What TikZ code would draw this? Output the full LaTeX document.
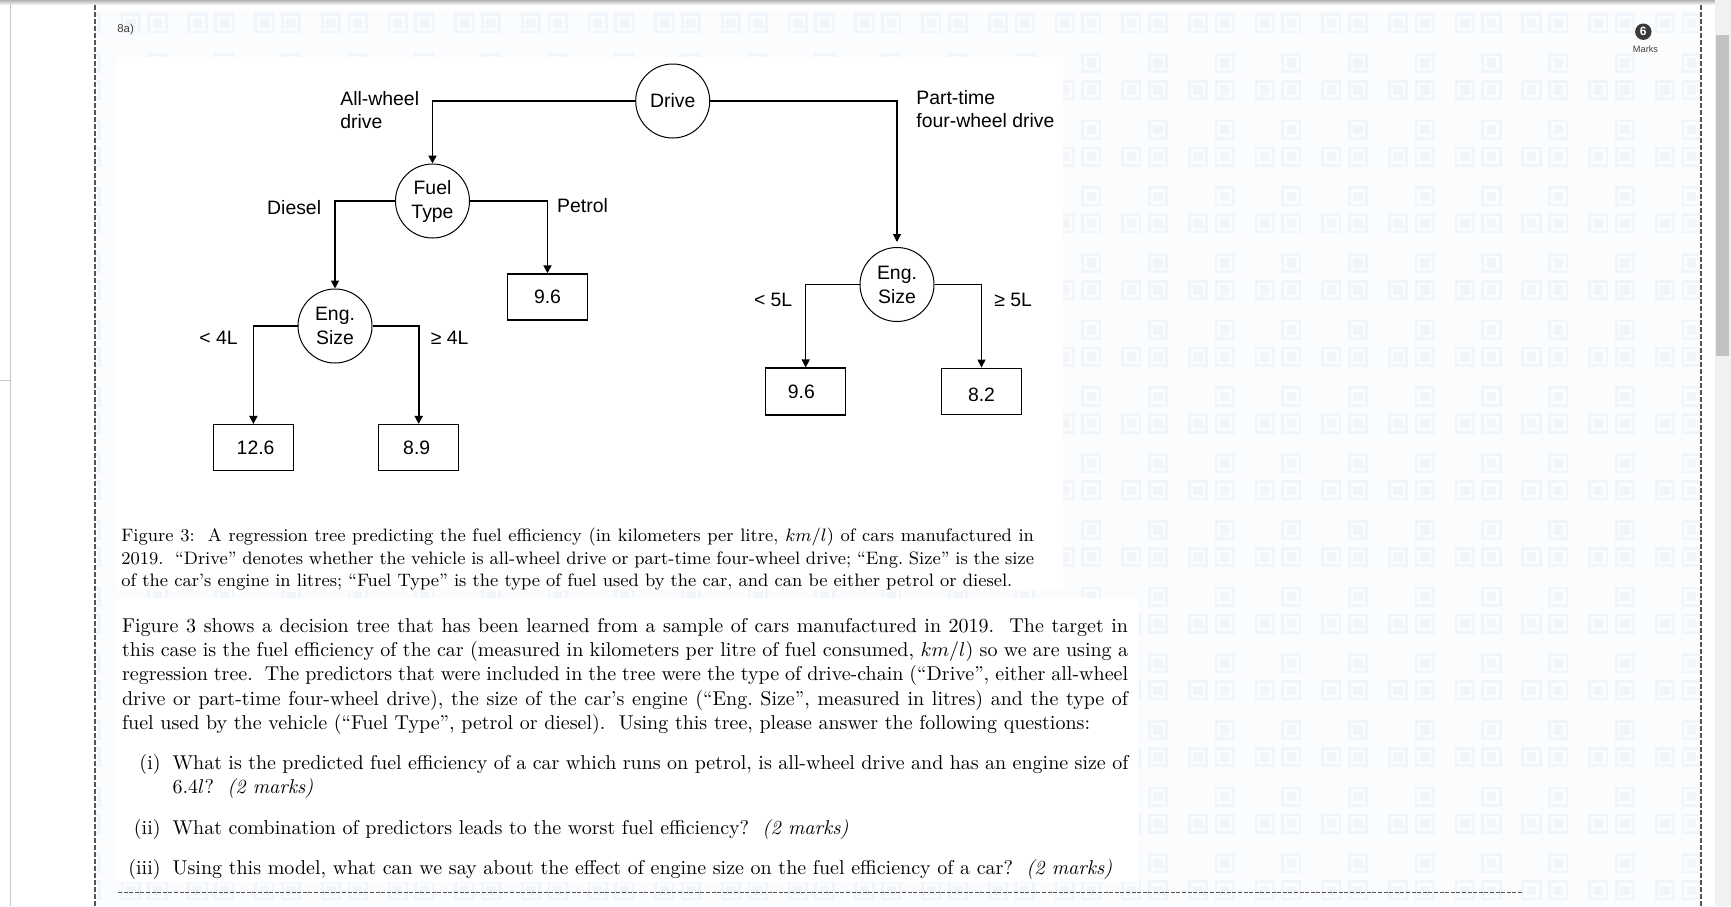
\documentclass[tikz,border=0pt]{standalone}
\usepackage{fontspec}
\newfontfamily\arial{Liberation Sans}
\usetikzlibrary{arrows.meta}
\definecolor{patc}{HTML}{F1F5F9}
\definecolor{patbg}{HTML}{FBFCFD}
\definecolor{bord}{HTML}{555555}
\definecolor{badge}{HTML}{3A3A3A}
\definecolor{track}{HTML}{F1F1F1}
\definecolor{thumb}{HTML}{C1C1C1}
\tikzset{
  treefont/.style={font=\arial\fontsize{9.7}{11.4}\selectfont},
  dnode/.style={circle, draw, line width=0.5pt, minimum size=37pt, inner sep=0pt, align=center, font=\arial\fontsize{9.7}{12}\selectfont},
  leaf/.style={draw, line width=0.75pt, minimum width=40pt, minimum height=23pt, inner sep=0pt, treefont},
  lab/.style={inner sep=0pt, align=left, treefont},
  arrL/.style={line width=0.9pt, -{Triangle[length=4pt,width=4pt]}},
  arrR/.style={line width=0.6pt, -{Triangle[length=4pt,width=4pt]}},
  ring/.style={draw=patc, line width=1.35pt},
  txt/.style={anchor=base west, inner sep=0pt},
}
\begin{document}
\begin{tikzpicture}[x=0.5pt,y=-0.5pt]
\useasboundingbox (0,0) rectangle (1731,906);
\fill[white] (0,0) rectangle (1731,906);
% watermark pattern
\begin{scope}
\clip (95,10) rectangle (1701,906);
\fill[patbg] (95,10) rectangle (1701,906);
\foreach \i in {-16,...,8}{
  \foreach \j in {-1,...,13}{
    \pgfmathsetmacro\ox{1158+66.7*\i}
    \pgfmathsetmacro\oy{63+66.7*\j}
    \draw[ring] (\ox-8.7,\oy-8.7) rectangle ++(17.4,17.4);
    \fill[patc] (\ox-4.7,\oy-4.7) rectangle ++(9.4,9.4);
    \draw[ring] (\ox-8.7,\oy+18.3) rectangle ++(17.4,17.4);
    \fill[patc] (\ox-4.7,\oy+22.3) rectangle ++(9.4,9.4);
    \draw[ring] (\ox+31.3,\oy+18.3) rectangle ++(17.4,17.4);
    \fill[patc] (\ox+35.3,\oy+22.3) rectangle ++(9.4,9.4);
  }
}
\end{scope}
\fill[white] (117,57) rectangle (1063,590);
\fill[white] (117,598) rectangle (1138,882);
% frame, sidebar, scrollbar
\shade[top color=black!30, bottom color=white] (0,0) rectangle (1715,5);
\draw[gray!45, line width=0.5pt] (10,0) -- (10,906);
\draw[gray!45, line width=0.5pt] (0,380) -- (10,380);
\fill[track] (1715,0) rectangle (1731,906);
\fill[thumb] (1716,35) rectangle (1729,356);
\draw[bord, line width=0.7pt, dash pattern=on 2.5pt off 1pt] (95,5) -- (95,906);
\draw[bord, line width=0.7pt, dash pattern=on 2.5pt off 1pt] (1701,5) -- (1701,906);
\draw[bord, line width=0.5pt, dash pattern=on 2pt off 0.8pt] (118,892.7) -- (1523,892.7);
% header
\node[anchor=west, inner sep=0pt, font=\arial\fontsize{5.7}{6}\selectfont, text=black!75] (qn) at (117,30) {8a)};
\node[circle, fill=badge, minimum size=8.2pt, inner sep=0pt, text=white, font=\arial\bfseries\fontsize{6}{6}\selectfont] (badge) at (1643.3,31.7) {6};
\node[inner sep=0pt, font=\arial\fontsize{4.6}{5}\selectfont, text=black!75] (marks) at (1645.5,49.3) {Marks};
% tree
\node[dnode] (drive) at (672.7,101) {Drive};
\node[dnode] (ft) at (432.5,201) {Fuel\\Type};
\node[dnode] (es1) at (335,326) {Eng.\\Size};
\node[dnode] (es2) at (897,284.5) {Eng.\\Size};
\node[leaf] (b126) at (253.4,447.7) {\kern1.1pt 12.6\kern-1.1pt};
\node[leaf] (b89) at (418.7,447.7) {\kern-1pt 8.9\kern1pt};
\node[leaf] (b96a) at (547.5,297) {9.6};
\node[leaf, minimum height=23.5pt] (b96b) at (805.7,391.7) {\kern-2.2pt 9.6\kern2.2pt};
\node[leaf] (b82) at (981.5,391.3) {\raisebox{-1.8pt}[\height][\depth]{8.2}};
\draw[arrL] (drive.west) -| (ft.north);
\draw[arrR] (drive.east) -| ([yshift=2.5pt]es2.north);
\draw[arrL] (ft.west) -| (es1.north);
\draw[arrL] (ft.east) -| (b96a.north);
\draw[arrL] (es1.west) -| (b126.north);
\draw[arrL] (es1.east) -| (b89.north);
\draw[arrR] (es2.west) -| (b96b.north);
\draw[arrR] (es2.east) -| (b82.north);
\node[lab, anchor=west] (lawd) at (340,110.3) {All-wheel\\drive};
\node[lab, anchor=west] (lpt) at (916,108.7) {Part-time\\four-wheel drive};
\node[lab, anchor=east] (ldie) at (321.5,207.5) {Diesel};
\node[lab, anchor=west] (lpet) at (556.8,205.5) {Petrol};
\node[lab, anchor=east] (l4a) at (238,337.5) {< 4L};
\node[lab, anchor=west] (l4b) at (430.5,337.5) {≥ 4L};
\node[lab, anchor=east] (l5a) at (792.7,300) {< 5L};
\node[lab, anchor=west] (l5b) at (994,300) {≥ 5L};
% caption
\begin{scope}[every node/.style={font=\fontsize{9}{11}\selectfont}]
\node[txt] (c1) at (121,541.5) {\makebox[456.3pt][s]{Figure 3:\ \ A regression tree predicting the fuel efficiency (in kilometers per litre, $km/l$) of cars manufactured in}};
\node[txt] (c2) at (121,564) {\makebox[456.3pt][s]{2019.\ \ “Drive” denotes whether the vehicle is all-wheel drive or part-time four-wheel drive; “Eng.\ Size” is the size}};
\node[txt] (c3) at (121,586.5) {of the car’s engine in litres; “Fuel Type” is the type of fuel used by the car, and can be either petrol or diesel.};
\end{scope}
% body
\begin{scope}[every node/.style={font=\fontsize{10}{12}\selectfont}]
\node[txt] (p1) at (121.7,632.5) {\makebox[503pt][s]{Figure 3 shows a decision tree that has been learned from a sample of cars manufactured in 2019.\ \ The target in}};
\node[txt] (p2) at (121.7,656.7) {\makebox[503pt][s]{this case is the fuel efficiency of the car (measured in kilometers per litre of fuel consumed, $km/l$) so we are using a}};
\node[txt] (p3) at (121.7,680.9) {\makebox[503pt][s]{regression tree.\ \ The predictors that were included in the tree were the type of drive-chain (“Drive”, either all-wheel}};
\node[txt] (p4) at (121.7,705.1) {\makebox[503pt][s]{drive or part-time four-wheel drive), the size of the car’s engine (“Eng.\ Size”, measured in litres) and the type of}};
\node[txt] (p5) at (121.7,729.3) {fuel used by the vehicle (“Fuel Type”, petrol or diesel).\ \ Using this tree, please answer the following questions:};
\node[anchor=base east, inner sep=0pt] (li) at (161,769.2) {(i)};
\node[txt] (q1a) at (172.2,769.2) {\makebox[477.9pt][s]{What is the predicted fuel efficiency of a car which runs on petrol, is all-wheel drive and has an engine size of}};
\node[txt] (q1b) at (172.2,793.2) {6.4$l$?\ \ \textit{(2 marks)}};
\node[anchor=base east, inner sep=0pt] (lii) at (161,834.2) {(ii)};
\node[txt] (q2) at (172.2,834.2) {What combination of predictors leads to the worst fuel efficiency?\ \ \textit{(2 marks)}};
\node[anchor=base east, inner sep=0pt] (liii) at (161,874.2) {(iii)};
\node[txt] (q3) at (172.2,874.2) {Using this model, what can we say about the effect of engine size on the fuel efficiency of a car?\ \ \textit{(2 marks)}};
\end{scope}
\end{tikzpicture}
\end{document}
